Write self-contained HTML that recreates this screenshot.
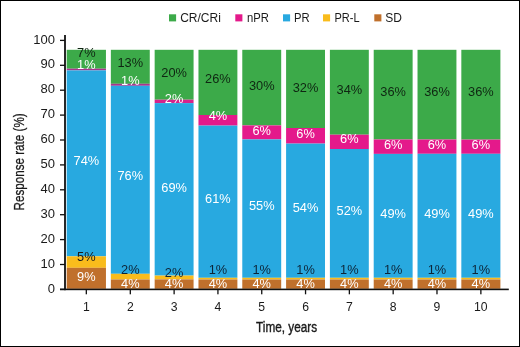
<!DOCTYPE html>
<html><head><meta charset="utf-8"><style>
html,body{margin:0;padding:0;background:#fff;}
#c{position:relative;width:520px;height:347px;overflow:hidden;background:#fff;}
svg{position:absolute;left:0;top:0;font-family:"Liberation Sans", sans-serif;will-change:transform;}
</style></head><body><div id="c">
<svg width="520" height="347" viewBox="0 0 520 347">
<rect x="66.70" y="49.80" width="39.25" height="18.90" fill="#3caa49"/>
<rect x="66.70" y="68.70" width="39.25" height="1.70" fill="#a8348e"/>
<rect x="66.70" y="70.40" width="39.25" height="185.90" fill="#28a9e0"/>
<rect x="66.70" y="256.30" width="39.25" height="11.50" fill="#f9bc1c"/>
<rect x="66.70" y="267.80" width="39.25" height="21.00" fill="#c0702c"/>
<rect x="110.85" y="49.80" width="38.91" height="34.00" fill="#3caa49"/>
<rect x="110.85" y="83.80" width="38.91" height="2.00" fill="#a8348e"/>
<rect x="110.85" y="85.80" width="38.91" height="188.00" fill="#28a9e0"/>
<rect x="110.85" y="273.80" width="38.91" height="5.70" fill="#f9bc1c"/>
<rect x="110.85" y="279.50" width="38.91" height="9.30" fill="#c0702c"/>
<rect x="154.66" y="49.80" width="38.91" height="49.90" fill="#3caa49"/>
<rect x="154.66" y="99.70" width="38.91" height="3.40" fill="#d6238b"/>
<rect x="154.66" y="103.10" width="38.91" height="172.50" fill="#28a9e0"/>
<rect x="154.66" y="275.60" width="38.91" height="3.80" fill="#f9bc1c"/>
<rect x="154.66" y="279.40" width="38.91" height="9.40" fill="#c0702c"/>
<rect x="198.47" y="49.80" width="38.91" height="65.20" fill="#3caa49"/>
<rect x="198.47" y="115.00" width="38.91" height="10.60" fill="#e4198b"/>
<rect x="198.47" y="125.60" width="38.91" height="152.20" fill="#28a9e0"/>
<rect x="198.47" y="277.80" width="38.91" height="1.70" fill="#f9bc1c"/>
<rect x="198.47" y="279.50" width="38.91" height="9.30" fill="#c0702c"/>
<rect x="242.28" y="49.80" width="38.91" height="75.60" fill="#3caa49"/>
<rect x="242.28" y="125.40" width="38.91" height="14.00" fill="#e4198b"/>
<rect x="242.28" y="139.40" width="38.91" height="138.40" fill="#28a9e0"/>
<rect x="242.28" y="277.80" width="38.91" height="1.70" fill="#f9bc1c"/>
<rect x="242.28" y="279.50" width="38.91" height="9.30" fill="#c0702c"/>
<rect x="286.09" y="49.80" width="38.91" height="78.20" fill="#3caa49"/>
<rect x="286.09" y="128.00" width="38.91" height="15.60" fill="#e4198b"/>
<rect x="286.09" y="143.60" width="38.91" height="134.20" fill="#28a9e0"/>
<rect x="286.09" y="277.80" width="38.91" height="1.70" fill="#f9bc1c"/>
<rect x="286.09" y="279.50" width="38.91" height="9.30" fill="#c0702c"/>
<rect x="329.90" y="49.80" width="38.91" height="84.90" fill="#3caa49"/>
<rect x="329.90" y="134.70" width="38.91" height="14.30" fill="#e4198b"/>
<rect x="329.90" y="149.00" width="38.91" height="128.80" fill="#28a9e0"/>
<rect x="329.90" y="277.80" width="38.91" height="1.70" fill="#f9bc1c"/>
<rect x="329.90" y="279.50" width="38.91" height="9.30" fill="#c0702c"/>
<rect x="373.71" y="49.80" width="38.91" height="89.70" fill="#3caa49"/>
<rect x="373.71" y="139.50" width="38.91" height="14.40" fill="#e4198b"/>
<rect x="373.71" y="153.90" width="38.91" height="123.90" fill="#28a9e0"/>
<rect x="373.71" y="277.80" width="38.91" height="1.70" fill="#f9bc1c"/>
<rect x="373.71" y="279.50" width="38.91" height="9.30" fill="#c0702c"/>
<rect x="417.52" y="49.80" width="38.91" height="89.70" fill="#3caa49"/>
<rect x="417.52" y="139.50" width="38.91" height="14.30" fill="#e4198b"/>
<rect x="417.52" y="153.80" width="38.91" height="124.00" fill="#28a9e0"/>
<rect x="417.52" y="277.80" width="38.91" height="1.70" fill="#f9bc1c"/>
<rect x="417.52" y="279.50" width="38.91" height="9.30" fill="#c0702c"/>
<rect x="461.33" y="49.80" width="39.07" height="89.80" fill="#3caa49"/>
<rect x="461.33" y="139.60" width="39.07" height="14.20" fill="#e4198b"/>
<rect x="461.33" y="153.80" width="39.07" height="124.00" fill="#28a9e0"/>
<rect x="461.33" y="277.80" width="39.07" height="1.70" fill="#f9bc1c"/>
<rect x="461.33" y="279.50" width="39.07" height="9.30" fill="#c0702c"/>
<text x="86.33" y="56.58" fill="#0f2612" text-anchor="middle" font-size="12.8">7%</text>
<text x="86.33" y="68.68" fill="#ffffff" text-anchor="middle" font-size="12.8">1%</text>
<text x="86.33" y="164.98" fill="#ffffff" text-anchor="middle" font-size="12.8">74%</text>
<text x="86.33" y="261.28" fill="#1a1a1a" text-anchor="middle" font-size="12.8">5%</text>
<text x="86.33" y="281.08" fill="#ffffff" text-anchor="middle" font-size="12.8">9%</text>
<text x="130.31" y="66.68" fill="#0f2612" text-anchor="middle" font-size="12.8">13%</text>
<text x="130.31" y="84.78" fill="#ffffff" text-anchor="middle" font-size="12.8">1%</text>
<text x="130.31" y="180.48" fill="#ffffff" text-anchor="middle" font-size="12.8">76%</text>
<text x="130.31" y="274.18" fill="#0d2538" text-anchor="middle" font-size="12.8">2%</text>
<text x="130.31" y="287.58" fill="#ffffff" text-anchor="middle" font-size="12.8">4%</text>
<text x="174.12" y="76.88" fill="#0f2612" text-anchor="middle" font-size="12.8">20%</text>
<text x="174.12" y="103.08" fill="#ffffff" text-anchor="middle" font-size="12.8">2%</text>
<text x="174.12" y="191.78" fill="#ffffff" text-anchor="middle" font-size="12.8">69%</text>
<text x="174.12" y="276.58" fill="#0d2538" text-anchor="middle" font-size="12.8">2%</text>
<text x="174.12" y="287.68" fill="#ffffff" text-anchor="middle" font-size="12.8">4%</text>
<text x="217.93" y="83.48" fill="#0f2612" text-anchor="middle" font-size="12.8">26%</text>
<text x="217.93" y="120.08" fill="#ffffff" text-anchor="middle" font-size="12.8">4%</text>
<text x="217.93" y="202.98" fill="#ffffff" text-anchor="middle" font-size="12.8">61%</text>
<text x="217.93" y="274.38" fill="#0d2538" text-anchor="middle" font-size="12.8">1%</text>
<text x="217.93" y="287.58" fill="#ffffff" text-anchor="middle" font-size="12.8">4%</text>
<text x="261.74" y="89.98" fill="#0f2612" text-anchor="middle" font-size="12.8">30%</text>
<text x="261.74" y="134.78" fill="#ffffff" text-anchor="middle" font-size="12.8">6%</text>
<text x="261.74" y="209.98" fill="#ffffff" text-anchor="middle" font-size="12.8">55%</text>
<text x="261.74" y="274.38" fill="#0d2538" text-anchor="middle" font-size="12.8">1%</text>
<text x="261.74" y="287.58" fill="#ffffff" text-anchor="middle" font-size="12.8">4%</text>
<text x="305.55" y="92.08" fill="#0f2612" text-anchor="middle" font-size="12.8">32%</text>
<text x="305.55" y="138.38" fill="#ffffff" text-anchor="middle" font-size="12.8">6%</text>
<text x="305.55" y="211.68" fill="#ffffff" text-anchor="middle" font-size="12.8">54%</text>
<text x="305.55" y="274.38" fill="#0d2538" text-anchor="middle" font-size="12.8">1%</text>
<text x="305.55" y="287.58" fill="#ffffff" text-anchor="middle" font-size="12.8">4%</text>
<text x="349.36" y="93.58" fill="#0f2612" text-anchor="middle" font-size="12.8">34%</text>
<text x="349.36" y="142.78" fill="#ffffff" text-anchor="middle" font-size="12.8">6%</text>
<text x="349.36" y="215.48" fill="#ffffff" text-anchor="middle" font-size="12.8">52%</text>
<text x="349.36" y="274.38" fill="#0d2538" text-anchor="middle" font-size="12.8">1%</text>
<text x="349.36" y="287.58" fill="#ffffff" text-anchor="middle" font-size="12.8">4%</text>
<text x="393.17" y="95.58" fill="#0f2612" text-anchor="middle" font-size="12.8">36%</text>
<text x="393.17" y="148.68" fill="#ffffff" text-anchor="middle" font-size="12.8">6%</text>
<text x="393.17" y="217.58" fill="#ffffff" text-anchor="middle" font-size="12.8">49%</text>
<text x="393.17" y="274.38" fill="#0d2538" text-anchor="middle" font-size="12.8">1%</text>
<text x="393.17" y="287.58" fill="#ffffff" text-anchor="middle" font-size="12.8">4%</text>
<text x="436.98" y="96.38" fill="#0f2612" text-anchor="middle" font-size="12.8">36%</text>
<text x="436.98" y="148.68" fill="#ffffff" text-anchor="middle" font-size="12.8">6%</text>
<text x="436.98" y="217.58" fill="#ffffff" text-anchor="middle" font-size="12.8">49%</text>
<text x="436.98" y="274.38" fill="#0d2538" text-anchor="middle" font-size="12.8">1%</text>
<text x="436.98" y="287.58" fill="#ffffff" text-anchor="middle" font-size="12.8">4%</text>
<text x="480.87" y="96.28" fill="#0f2612" text-anchor="middle" font-size="12.8">36%</text>
<text x="480.87" y="148.68" fill="#ffffff" text-anchor="middle" font-size="12.8">6%</text>
<text x="480.87" y="217.58" fill="#ffffff" text-anchor="middle" font-size="12.8">49%</text>
<text x="480.87" y="274.38" fill="#0d2538" text-anchor="middle" font-size="12.8">1%</text>
<text x="480.87" y="287.58" fill="#ffffff" text-anchor="middle" font-size="12.8">4%</text>
<rect x="64.1" y="35" width="1.8" height="255.2" fill="#111"/>
<rect x="60" y="288.6" width="448.8" height="1.6" fill="#111"/>
<rect x="60" y="288.75" width="5" height="1.3" fill="#111"/>
<text x="55" y="292.55" text-anchor="end" font-size="13" fill="#1a1a1a">0</text>
<rect x="60" y="263.85" width="5" height="1.3" fill="#111"/>
<text x="55" y="267.65" text-anchor="end" font-size="13" fill="#1a1a1a">10</text>
<rect x="60" y="238.95" width="5" height="1.3" fill="#111"/>
<text x="55" y="242.75" text-anchor="end" font-size="13" fill="#1a1a1a">20</text>
<rect x="60" y="214.05" width="5" height="1.3" fill="#111"/>
<text x="55" y="217.85" text-anchor="end" font-size="13" fill="#1a1a1a">30</text>
<rect x="60" y="189.15" width="5" height="1.3" fill="#111"/>
<text x="55" y="192.95" text-anchor="end" font-size="13" fill="#1a1a1a">40</text>
<rect x="60" y="164.25" width="5" height="1.3" fill="#111"/>
<text x="55" y="168.05" text-anchor="end" font-size="13" fill="#1a1a1a">50</text>
<rect x="60" y="139.35" width="5" height="1.3" fill="#111"/>
<text x="55" y="143.15" text-anchor="end" font-size="13" fill="#1a1a1a">60</text>
<rect x="60" y="114.45" width="5" height="1.3" fill="#111"/>
<text x="55" y="118.25" text-anchor="end" font-size="13" fill="#1a1a1a">70</text>
<rect x="60" y="89.55" width="5" height="1.3" fill="#111"/>
<text x="55" y="93.35" text-anchor="end" font-size="13" fill="#1a1a1a">80</text>
<rect x="60" y="64.65" width="5" height="1.3" fill="#111"/>
<text x="55" y="68.45" text-anchor="end" font-size="13" fill="#1a1a1a">90</text>
<rect x="60" y="39.75" width="5" height="1.3" fill="#111"/>
<text x="55" y="43.55" text-anchor="end" font-size="13" fill="#1a1a1a">100</text>
<rect x="85.67" y="289" width="1.3" height="5.3" fill="#111"/>
<text x="86.33" y="310.6" text-anchor="middle" font-size="12.2" fill="#1a1a1a">1</text>
<rect x="129.66" y="289" width="1.3" height="5.3" fill="#111"/>
<text x="130.31" y="310.6" text-anchor="middle" font-size="12.2" fill="#1a1a1a">2</text>
<rect x="173.47" y="289" width="1.3" height="5.3" fill="#111"/>
<text x="174.12" y="310.6" text-anchor="middle" font-size="12.2" fill="#1a1a1a">3</text>
<rect x="217.28" y="289" width="1.3" height="5.3" fill="#111"/>
<text x="217.93" y="310.6" text-anchor="middle" font-size="12.2" fill="#1a1a1a">4</text>
<rect x="261.09" y="289" width="1.3" height="5.3" fill="#111"/>
<text x="261.74" y="310.6" text-anchor="middle" font-size="12.2" fill="#1a1a1a">5</text>
<rect x="304.90" y="289" width="1.3" height="5.3" fill="#111"/>
<text x="305.55" y="310.6" text-anchor="middle" font-size="12.2" fill="#1a1a1a">6</text>
<rect x="348.71" y="289" width="1.3" height="5.3" fill="#111"/>
<text x="349.36" y="310.6" text-anchor="middle" font-size="12.2" fill="#1a1a1a">7</text>
<rect x="392.52" y="289" width="1.3" height="5.3" fill="#111"/>
<text x="393.17" y="310.6" text-anchor="middle" font-size="12.2" fill="#1a1a1a">8</text>
<rect x="436.33" y="289" width="1.3" height="5.3" fill="#111"/>
<text x="436.98" y="310.6" text-anchor="middle" font-size="12.2" fill="#1a1a1a">9</text>
<rect x="480.22" y="289" width="1.3" height="5.3" fill="#111"/>
<text x="480.87" y="310.6" text-anchor="middle" font-size="12.2" fill="#1a1a1a">10</text>
<text transform="translate(24.1,161.9) rotate(-90) scale(0.777,1)" text-anchor="middle" font-size="15" fill="#1a1a1a" stroke="#1a1a1a" stroke-width="0.3">Response rate (%)</text>
<text transform="translate(286.6,331.9) scale(0.785,1)" text-anchor="middle" font-size="15" fill="#1a1a1a" stroke="#1a1a1a" stroke-width="0.4">Time, years</text>
<rect x="169" y="14.3" width="7.1" height="7.1" fill="#3caa49"/>
<text transform="translate(180.2,22) scale(1.0,1)" font-size="12" fill="#1a1a1a">CR/CRi</text>
<rect x="235.3" y="14.3" width="7.1" height="7.1" fill="#e4198b"/>
<text transform="translate(246.9,22) scale(0.94,1)" font-size="12" fill="#1a1a1a">nPR</text>
<rect x="283" y="14.3" width="7.1" height="7.1" fill="#28a9e0"/>
<text transform="translate(293.9,22) scale(0.94,1)" font-size="12" fill="#1a1a1a">PR</text>
<rect x="323" y="14.3" width="7.1" height="7.1" fill="#f9bc1c"/>
<text transform="translate(334.5,22) scale(0.92,1)" font-size="12" fill="#1a1a1a">PR-L</text>
<rect x="374.3" y="14.3" width="7.1" height="7.1" fill="#c0702c"/>
<text transform="translate(385.2,22) scale(1.0,1)" font-size="12" fill="#1a1a1a">SD</text>
<rect x="0.5" y="0.5" width="519" height="346" fill="none" stroke="#000" stroke-width="1"/>
</svg></div></body></html>
